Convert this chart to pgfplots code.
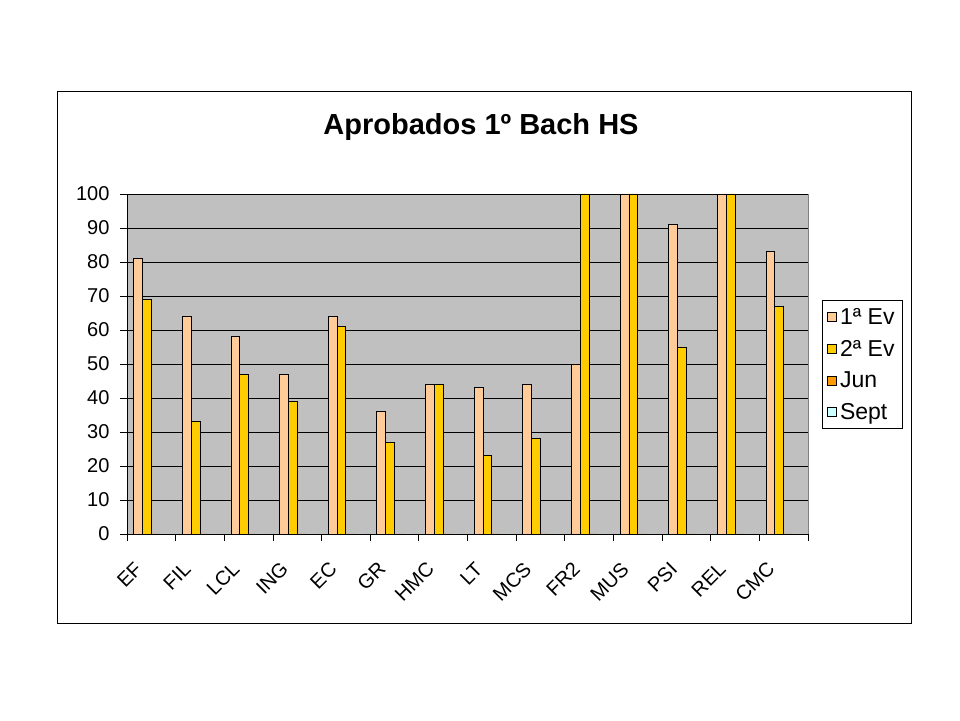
\documentclass[border=0pt]{standalone}
\usepackage{fontspec}
\setmainfont{Liberation Sans}
\usepackage{pgfplots}
\usepackage{pgfplotstable}
\pgfplotsset{compat=1.18}
\definecolor{evA}{HTML}{FFCC99}
\definecolor{evB}{HTML}{FFCC00}
\definecolor{jun}{HTML}{FF9900}
\definecolor{sept}{HTML}{CCFFFF}
\definecolor{plotbg}{HTML}{C0C0C0}
\pgfplotstableread{
x  evA  evB  jun  sept
0  81   69   0    0
1  64   33   0    0
2  58   47   0    0
3  47   39   0    0
4  64   61   0    0
5  36   27   0    0
6  44   44   0    0
7  43   23   0    0
8  44   28   0    0
9  50   100  0    0
10 100  100  0    0
11 91   55   0    0
12 100  100  0    0
13 83   67   0    0
}\datatable
\begin{document}
\begin{tikzpicture}
\useasboundingbox (0pt,0pt) rectangle (960pt,720pt);
\fill[white] (0pt,0pt) rectangle (960pt,720pt);
\draw[black, line width=0.8pt] (57pt,97pt) rectangle (911pt,629pt);
\node[anchor=base, font=\fontsize{29}{34}\selectfont\bfseries] at (481pt,585pt) {Aprobados 1º Bach HS};
\begin{axis}[
  at={(127pt,186pt)}, anchor=south west, scale only axis,
  width=681pt, height=340pt,
  ymin=0, ymax=100, ytick={0,10,...,100},
  xmin=-0.5, xmax=13.5,
  xtick={-0.5,0.5,...,13.5},
  x tick label as interval=true,
  xticklabels={EF,FIL,LCL,ING,EC,GR,HMC,LT,MCS,FR2,MUS,PSI,REL,CMC},
  xticklabel style={rotate=45, anchor=north east, xshift=-23pt, yshift=2pt},
  yticklabel style={xshift=-7pt},
  tick align=outside, major tick length=7pt,
  tick style={black, line width=0.8pt},
  axis x line*=bottom, axis y line*=left,
  axis line style={black, line width=0.8pt},
  axis background/.style={fill=plotbg, draw=gray, line width=0.8pt},
  ymajorgrids, grid style={black, line width=0.8pt},
  ticklabel style={font=\fontsize{20}{24}\selectfont},
  /pgf/number format/assume math mode=true,
  ybar=0pt, bar width=8.84pt,
  legend style={at={(1.0206,0.688)}, anchor=north west, draw=black, fill=white,
    line width=0.8pt, font=\fontsize{23}{27}\selectfont, row sep=12pt,
    inner xsep=5pt, inner ysep=7pt, nodes={inner xsep=3pt, inner ysep=1pt}},
  legend cell align=left,
  legend image code/.code={\draw[#1, draw=black, line width=0.6pt] (0pt,-4.5pt) rectangle (9pt,4.5pt);},
]
\addplot[fill=evA, draw=black, line width=0.8pt] table[x=x, y=evA] {\datatable};
\addplot[fill=evB, draw=black, line width=0.8pt] table[x=x, y=evB] {\datatable};
\addplot[fill=jun, draw=black, line width=0.8pt] table[x=x, y=jun] {\datatable};
\addplot[fill=sept, draw=black, line width=0.8pt] table[x=x, y=sept] {\datatable};
\legend{1ª Ev, 2ª Ev, Jun, Sept}
\end{axis}
\end{tikzpicture}
\end{document}
